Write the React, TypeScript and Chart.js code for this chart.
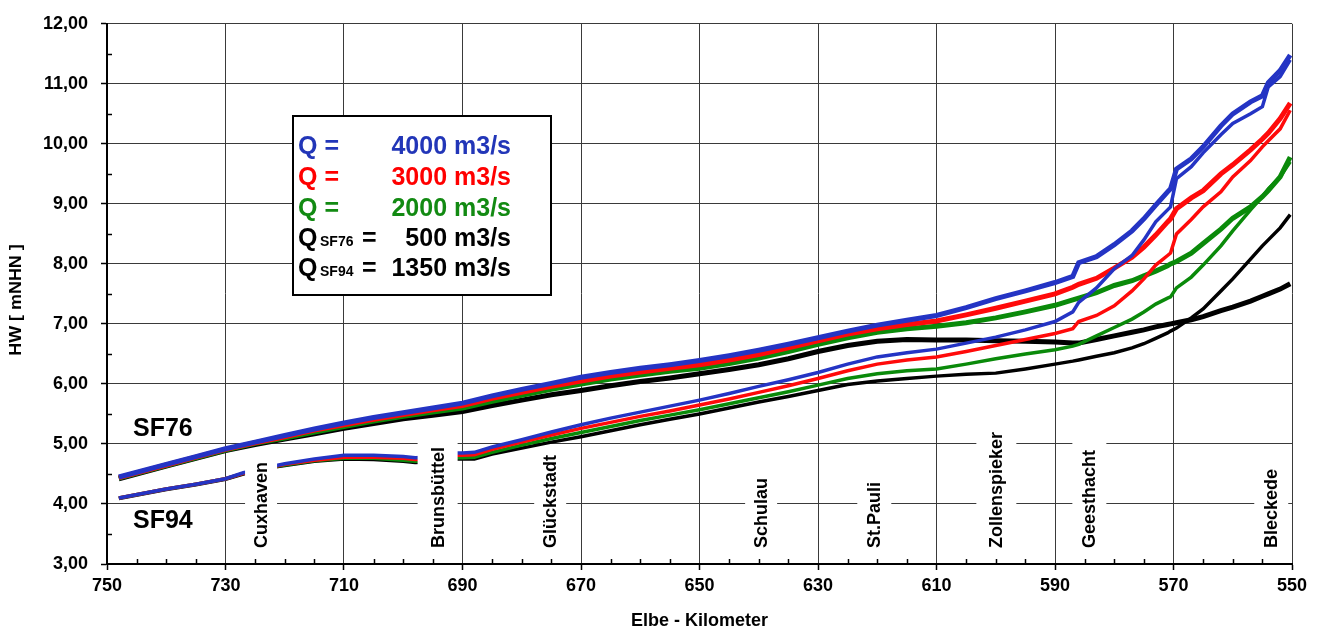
import React, { useEffect, useRef } from "react";
import { Chart, registerables } from "chart.js";

Chart.register(...registerables);

// ---------- data ----------
const KM_SF76 = [748, 740, 735, 730, 725, 720, 715, 710, 705, 700, 695, 690,
  685, 680, 675, 670, 665, 660, 655, 650, 645, 640, 635, 630, 625, 620, 615, 610, 605, 600, 595, 590,
  587, 586, 583, 580, 577, 575, 573, 571, 570.5, 569.5, 567, 565, 562, 560, 557, 555, 554, 552, 550.3];

const HW76_Q4000 = [4.45, 4.66, 4.79, 4.92, 5.03, 5.14, 5.25, 5.35, 5.44, 5.52, 5.60, 5.68,
  5.80, 5.91, 6.01, 6.11, 6.19, 6.26, 6.32, 6.39, 6.47, 6.56, 6.66, 6.77, 6.88, 6.98, 7.06, 7.14, 7.27, 7.42, 7.55, 7.69,
  7.79, 8.02, 8.12, 8.32, 8.55, 8.75, 8.98, 9.20, 9.25, 9.58, 9.75, 9.95, 10.30, 10.50, 10.70, 10.80, 11.02, 11.22, 11.48];

const HW76_Q3000 = [4.44, 4.65, 4.78, 4.91, 5.02, 5.12, 5.23, 5.32, 5.41, 5.49, 5.57, 5.64,
  5.76, 5.86, 5.96, 6.05, 6.13, 6.20, 6.26, 6.32, 6.40, 6.49, 6.60, 6.72, 6.83, 6.92, 6.99, 7.05, 7.15, 7.26, 7.38, 7.50,
  7.61, 7.66, 7.76, 7.93, 8.11, 8.28, 8.48, 8.70, 8.75, 8.92, 9.10, 9.22, 9.50, 9.65, 9.90, 10.08, 10.18, 10.42, 10.68];

const HW76_Q2000 = [4.43, 4.64, 4.77, 4.90, 5.01, 5.10, 5.20, 5.29, 5.38, 5.46, 5.53, 5.60,
  5.71, 5.81, 5.91, 6.00, 6.08, 6.15, 6.21, 6.26, 6.34, 6.43, 6.54, 6.66, 6.77, 6.86, 6.92, 6.96, 7.02, 7.10, 7.20, 7.31,
  7.40, 7.43, 7.52, 7.64, 7.72, 7.80, 7.88, 7.97, 8.00, 8.04, 8.18, 8.34, 8.58, 8.76, 8.95, 9.12, 9.22, 9.45, 9.78];

const HW76_Q500 = [4.42, 4.63, 4.76, 4.89, 4.99, 5.08, 5.17, 5.26, 5.34, 5.42, 5.48, 5.54,
  5.64, 5.73, 5.82, 5.89, 5.97, 6.04, 6.10, 6.17, 6.24, 6.32, 6.42, 6.54, 6.64, 6.71, 6.74, 6.73, 6.73, 6.72, 6.71, 6.70,
  6.68, 6.68, 6.74, 6.80, 6.86, 6.90, 6.95, 6.99, 7.00, 7.02, 7.07, 7.12, 7.22, 7.28, 7.38, 7.46, 7.50, 7.58, 7.67];

const KM_SF94 = [748, 740, 735, 730, 727, 725, 722, 720, 715, 710, 705, 700, 698, 695, 692, 690, 688,
  685, 680, 675, 670, 665, 660, 655, 650, 645, 640, 635, 630, 625, 620, 615, 610, 605, 600, 595, 590,
  587, 586, 583, 580, 577, 575, 573, 571, 570.5, 569.5, 567, 565, 562, 560, 557, 555, 554, 552, 550.3];

const HW94_Q4000 = [4.10, 4.25, 4.33, 4.42, 4.52, 4.56, 4.63, 4.67, 4.75, 4.81, 4.81, 4.79, 4.77, 4.78, 4.85, 4.85, 4.86,
  4.95, 5.07, 5.20, 5.32, 5.43, 5.53, 5.63, 5.73, 5.84, 5.96, 6.07, 6.19, 6.33, 6.45, 6.52, 6.58, 6.68, 6.78, 6.90, 7.04,
  7.20, 7.36, 7.60, 7.92, 8.14, 8.40, 8.70, 8.90, 8.95, 9.42, 9.62, 9.85, 10.15, 10.34, 10.50, 10.62, 10.95, 11.12, 11.40];

const HW94_Q3000 = [4.10, 4.25, 4.33, 4.42, 4.51, 4.55, 4.62, 4.66, 4.73, 4.78, 4.78, 4.76, 4.74, 4.75, 4.81, 4.81, 4.82,
  4.91, 5.03, 5.15, 5.26, 5.36, 5.46, 5.55, 5.65, 5.75, 5.86, 5.97, 6.09, 6.22, 6.33, 6.40, 6.45, 6.54, 6.64, 6.74, 6.84,
  6.92, 7.04, 7.14, 7.30, 7.55, 7.75, 7.98, 8.14, 8.18, 8.50, 8.74, 8.95, 9.20, 9.45, 9.72, 9.95, 10.05, 10.25, 10.56];

const HW94_Q2000 = [4.10, 4.25, 4.33, 4.42, 4.51, 4.55, 4.62, 4.65, 4.72, 4.76, 4.76, 4.73, 4.71, 4.72, 4.77, 4.77, 4.78,
  4.86, 4.98, 5.09, 5.19, 5.29, 5.39, 5.48, 5.57, 5.67, 5.77, 5.87, 5.98, 6.09, 6.17, 6.22, 6.25, 6.33, 6.42, 6.50, 6.57,
  6.63, 6.66, 6.80, 6.94, 7.08, 7.20, 7.33, 7.43, 7.45, 7.60, 7.78, 7.98, 8.30, 8.55, 8.90, 9.12, 9.25, 9.45, 9.70];

const HW94_Q1350 = [4.09, 4.24, 4.32, 4.41, 4.50, 4.54, 4.61, 4.64, 4.71, 4.75, 4.74, 4.71, 4.69, 4.70, 4.75, 4.75, 4.75,
  4.83, 4.93, 5.03, 5.12, 5.22, 5.32, 5.41, 5.50, 5.60, 5.70, 5.79, 5.89, 5.99, 6.05, 6.09, 6.13, 6.16, 6.18, 6.25, 6.33,
  6.38, 6.40, 6.46, 6.52, 6.60, 6.67, 6.76, 6.85, 6.88, 6.93, 7.10, 7.25, 7.55, 7.75, 8.08, 8.30, 8.40, 8.60, 8.82];

// legend content
const LEGEND_SUB = ["", "", "", "SF76", "SF94"];
const LEGEND_Q = ["4000", "3000", "2000", "500", "1350"];
const LEGEND_COLORS = ["#2236b8", "#ff0000", "#128a12", "#000000", "#000000"];

// locations along the Elbe (km) and label texts
const PLACES = ["Cuxhaven", "Brunsbüttel", "Glückstadt", "Schulau", "St.Pauli", "Zollenspieker", "Geesthacht", "Bleckede"];
const PLACE_KM = [724, 694.2, 675.2, 639.6, 620.5, 599.9, 584.2, 553.5];

const X_TITLE = "Elbe - Kilometer";
const Y_TITLE = "HW [ mNHN ]";

// ---------- styling ----------
const FONT = "'Liberation Sans', Arial, Helvetica, sans-serif";
const BLUE = "#2434c4";
const RED = "#ff0a0a";
const GREEN = "#0a8a0a";
const BLACK = "#000000";

// label box layout (top in HW units, half width px)
const PLACE_BOX_TOP = [4.84, 5.11, 4.93, 4.55, 4.51, 5.57, 5.21, 4.83];
const PLACE_BOX_HALF = [16, 20, 16, 16, 17, 20, 17, 17];

const pts = (km: number[], v: number[]) => km.map((k, i) => ({ x: k, y: v[i] }));

const fmtY = (v: number) => v.toFixed(2).replace(".", ",");

const overlayPlugin = {
  id: "overlay",
  afterDatasetsDraw(chart: any) {
    const { ctx, scales, chartArea } = chart;
    const x = scales.x;
    const y = scales.y;
    ctx.save();
    // white label boxes with rotated location names
    const boxBottom = chartArea.bottom - 11;
    PLACES.forEach((name, i) => {
      const cx = x.getPixelForValue(PLACE_KM[i]);
      const top = y.getPixelForValue(PLACE_BOX_TOP[i]);
      const hw = PLACE_BOX_HALF[i];
      ctx.fillStyle = "#ffffff";
      ctx.fillRect(cx - hw, top, hw * 2, boxBottom - top);
      ctx.save();
      ctx.translate(cx, chartArea.bottom - 16);
      ctx.rotate(-Math.PI / 2);
      ctx.fillStyle = "#000";
      ctx.font = `bold 18px ${FONT}`;
      ctx.textAlign = "left";
      ctx.textBaseline = "middle";
      ctx.fillText(name, 0, 1);
      ctx.restore();
    });
    ctx.restore();
  },
  afterDraw(chart: any) {
    const { ctx, chartArea, scales } = chart;
    const x = scales.x;
    const y = scales.y;
    ctx.save();
    // minor ticks (inside)
    ctx.strokeStyle = "#000";
    ctx.lineWidth = 1.5;
    for (let k = 555; k < 750; k += 5) {
      if ((k - 550) % 20 === 0) continue;
      const px = Math.round(x.getPixelForValue(k)) + 0.5;
      ctx.beginPath();
      ctx.moveTo(px, chartArea.bottom);
      ctx.lineTo(px, chartArea.bottom - 5);
      ctx.stroke();
    }
    for (let v = 3.5; v < 12; v += 1) {
      const py = Math.round(y.getPixelForValue(v)) + 0.5;
      ctx.beginPath();
      ctx.moveTo(chartArea.left, py);
      ctx.lineTo(chartArea.left + 5, py);
      ctx.stroke();
    }

    // SF76 / SF94 labels
    ctx.fillStyle = "#000";
    ctx.font = `bold 25px ${FONT}`;
    ctx.textAlign = "left";
    ctx.textBaseline = "middle";
    ctx.fillText("SF76", chartArea.left + 26, 429);
    ctx.fillText("SF94", chartArea.left + 26, 521);

    // legend box
    const lx = 293, ly = 116, lw = 258, lh = 179;
    ctx.fillStyle = "#ffffff";
    ctx.fillRect(lx, ly, lw, lh);
    ctx.lineWidth = 2;
    ctx.strokeStyle = "#000";
    ctx.strokeRect(lx, ly, lw, lh);
    const rowCenters = [145, 176, 207, 237, 267];
    LEGEND_Q.forEach((q, i) => {
      const base = rowCenters[i] + 9;
      ctx.fillStyle = LEGEND_COLORS[i];
      ctx.textBaseline = "alphabetic";
      ctx.textAlign = "left";
      ctx.font = `bold 25px ${FONT}`;
      if (LEGEND_SUB[i]) {
        ctx.fillText("Q", lx + 5, base);
        ctx.font = `bold 14px ${FONT}`;
        ctx.fillText(LEGEND_SUB[i], lx + 27, base);
        ctx.font = `bold 25px ${FONT}`;
        ctx.fillText("=", lx + 69, base);
      } else {
        ctx.fillText("Q =", lx + 5, base);
      }
      ctx.textAlign = "right";
      ctx.fillText(`${q} m3/s`, lx + 218, base);
    });

    // axis titles
    ctx.fillStyle = "#000";
    ctx.font = `bold 18px ${FONT}`;
    ctx.textAlign = "center";
    ctx.textBaseline = "middle";
    ctx.fillText(X_TITLE, (chartArea.left + chartArea.right) / 2, 621);
    ctx.save();
    ctx.translate(17, 300);
    ctx.rotate(-Math.PI / 2);
    ctx.scale(1.12, 1);
    ctx.font = `bold 16px ${FONT}`;
    ctx.fillText(Y_TITLE, 0, 0);
    ctx.restore();
    ctx.restore();
  },
};

export default function App() {
  const ref = useRef<HTMLCanvasElement>(null);
  useEffect(() => {
    const ds = (label: string, km: number[], v: number[], color: string, width: number) => ({
      label,
      data: pts(km, v),
      borderColor: color,
      backgroundColor: color,
      borderWidth: width,
      pointRadius: 0,
      tension: 0,
      fill: false,
    });
    const chart = new Chart(ref.current as HTMLCanvasElement, {
      type: "line",
      data: {
        datasets: [
          ds("SF76 Q=4000", KM_SF76, HW76_Q4000, BLUE, 5),
          ds("SF94 Q=4000", KM_SF94, HW94_Q4000, BLUE, 3.5),
          ds("SF76 Q=3000", KM_SF76, HW76_Q3000, RED, 5),
          ds("SF94 Q=3000", KM_SF94, HW94_Q3000, RED, 3.5),
          ds("SF76 Q=2000", KM_SF76, HW76_Q2000, GREEN, 5),
          ds("SF94 Q=2000", KM_SF94, HW94_Q2000, GREEN, 3.5),
          ds("SF76 Q=500", KM_SF76, HW76_Q500, BLACK, 5),
          ds("SF94 Q=1350", KM_SF94, HW94_Q1350, BLACK, 3.5),
        ],
      },
      options: {
        animation: false,
        responsive: false,
        devicePixelRatio: 1,
        layout: { padding: { top: 20, right: 25, left: 0, bottom: 0 } },
        plugins: { legend: { display: false }, tooltip: { enabled: false } },
        scales: {
          x: {
            type: "linear",
            reverse: true,
            min: 550,
            max: 750,
            afterFit: (s: any) => { s.height = 66; },
            ticks: {
              stepSize: 20,
              color: "#000",
              padding: 5,
              maxRotation: 0,
              font: { family: FONT, size: 18, weight: "bold" },
              callback: (v: any) => String(v),
            },
            grid: { color: "#3a3a3a", lineWidth: 1, tickLength: 6, tickColor: "#000", tickWidth: 1.5 },
            border: { display: true, color: "#000", width: 2 },
          },
          y: {
            type: "linear",
            min: 3,
            max: 12,
            afterFit: (s: any) => { s.width = 107; },
            ticks: {
              stepSize: 1,
              color: "#000",
              padding: 13,
              font: { family: FONT, size: 18, weight: "bold" },
              callback: (v: any) => fmtY(Number(v)),
            },
            grid: { color: "#3a3a3a", lineWidth: 1, tickLength: 6, tickColor: "#000", tickWidth: 1.5 },
            border: { display: true, color: "#000", width: 2 },
          },
        },
      } as any,
      plugins: [overlayPlugin as any],
    });
    return () => chart.destroy();
  }, []);
  return (
    <div style={{ position: "fixed", left: 0, top: 0, width: 1317, height: 630, background: "#fff" }}>
      <canvas ref={ref} width={1317} height={630} style={{ display: "block", width: 1317, height: 630 }} />
    </div>
  );
}
